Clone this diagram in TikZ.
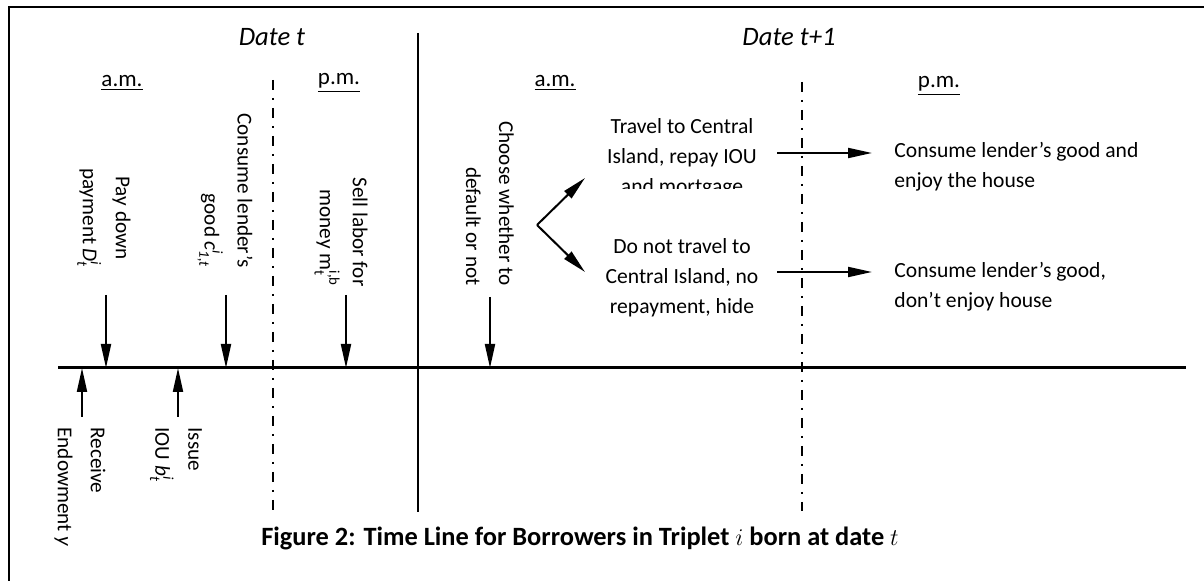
\documentclass[tikz,border=0pt]{standalone}
\usepackage{amsmath}
\usepackage{fontspec}
\setmainfont{Carlito}
\usetikzlibrary{arrows.meta}

\tikzstyle{event}=[rotate=-90,inner sep=0pt,font=\fontsize{10.6}{16.5}\selectfont]
\tikzstyle{eventdown}=[event,align=right,anchor=east]
\tikzstyle{eventup}=[event,align=left,anchor=west]
\tikzstyle{outcome}=[inner sep=0pt,font=\fontsize{10.8}{15}\selectfont]
\tikzstyle{heading}=[inner sep=0pt,font=\fontsize{11.5}{14}\selectfont]
\tikzstyle{arr}=[line width=1pt,-{Triangle[length=12pt,width=5pt]}]
\tikzstyle{period}=[line width=1pt,dash pattern=on 5pt off 4pt on 1pt off 4pt]

\begin{document}
\begin{tikzpicture}[x=0.5pt,y=-0.5pt]
        \useasboundingbox (0,0) rectangle (1204,581);
        % frame
        \draw[line width=1pt] (1204,7) -- (9,7) -- (9,581);

        % time line and dividers
        \coordinate (start) at (58,368);
        \coordinate (end) at (1186,368);
        \draw[line width=1.5pt] (start) -- (end);
        \coordinate (dayA) at (418,33);
        \coordinate (dayB) at (418,512);
        \draw[line width=1pt] (dayA) -- (dayB);
        \coordinate (noonA) at (273,80);
        \coordinate (noonB) at (273,511);
        \draw[period] (noonA) -- (noonB);
        \coordinate (noonC) at (802,82);
        \coordinate (noonD) at (802,511);
        \draw[period] (noonC) -- (noonD);

        % headings
        \node[heading,font=\itshape\fontsize{13.3}{15}\selectfont] (datet) at (272,37) {Date t};
        \node[heading,font=\itshape\fontsize{13.3}{15}\selectfont] (datenext) at (789,37) {Date t+1};
        \node[heading] (am) at (122,83) {\underline{a.m.}};
        \node[heading] (pm) at (339,83) {\underline{p.m.}};
        \node[heading] (amnext) at (555,83) {\underline{a.m.}};
        \node[heading] (pmnext) at (939,86) {\underline{p.m.}};

        % events at date t
        \node[event,align=center] (pay) at (104,218) {Pay down\\payment \textit{D}$^{\textit{i}}_{\textit{t}}$};
        \node[eventdown] (cons) at (225,268) {Consume lender's\\good \textit{c}$^{\textit{i}}_{\textit{1,t}}$};
        \node[eventdown] (sell) at (341,287) {Sell labor for\\money m$^{\text{i,b}}_{\text{t}}$};
        \node[eventup] (recv) at (80,427) {Receive\\Endowment \textit{y}};
        \node[eventup] (issue) at (176,427) {Issue\\IOU \textit{b}$^{\textit{i}}_{\textit{t}}$};
        \coordinate (payA) at (106,295);
        \coordinate (payB) at (106,368);
        \draw[arr] (payA) -- (payB);
        \coordinate (consA) at (226,295);
        \coordinate (consB) at (226,368);
        \draw[arr] (consA) -- (consB);
        \coordinate (sellA) at (346,295);
        \coordinate (sellB) at (346,368);
        \draw[arr] (sellA) -- (sellB);
        \coordinate (recvA) at (82,417);
        \coordinate (recvB) at (82,368);
        \draw[arr] (recvA) -- (recvB);
        \coordinate (issueA) at (178,417);
        \coordinate (issueB) at (178,368);
        \draw[arr] (issueA) -- (issueB);

        % events at date t+1
        \node[eventdown] (choose) at (490,286) {Choose whether to\\default or not};
        \coordinate (chooseA) at (490,297);
        \coordinate (chooseB) at (490,368);
        \draw[arr] (chooseA) -- (chooseB);
        \coordinate (fork) at (537,225);
        \coordinate (repay) at (585,178);
        \coordinate (hide) at (585,272);
        \draw[arr] (fork) -- (repay);
        \draw[arr] (fork) -- (hide);
        \begin{scope}
            \clip (590,100) rectangle (780,189);
            \node[outcome,align=center] (travel) at (682,158) {Travel to Central\\Island, repay IOU\\and mortgage};
        \end{scope}
        \node[outcome,align=center] (notravel) at (682,278) {Do not travel to\\Central Island, no\\repayment, hide};
        \node[outcome,align=left,anchor=west] (house) at (894,167) {Consume lender's good and\\enjoy the house};
        \node[outcome,align=left,anchor=west] (nohouse) at (894,287) {Consume lender's good,\\don't enjoy house};
        \coordinate (travelR) at (777,153);
        \coordinate (houseL) at (872,153);
        \draw[arr] (travelR) -- (houseL);
        \coordinate (notravelR) at (777,272);
        \coordinate (nohouseL) at (872,272);
        \draw[arr] (notravelR) -- (nohouseL);

        % caption
        \node[heading,font=\bfseries\fontsize{13.2}{15}\selectfont] (caption) at (580,538) {Figure 2: Time Line for Borrowers in Triplet $i$ born at date $t$};
    \end{tikzpicture}
\end{document}
